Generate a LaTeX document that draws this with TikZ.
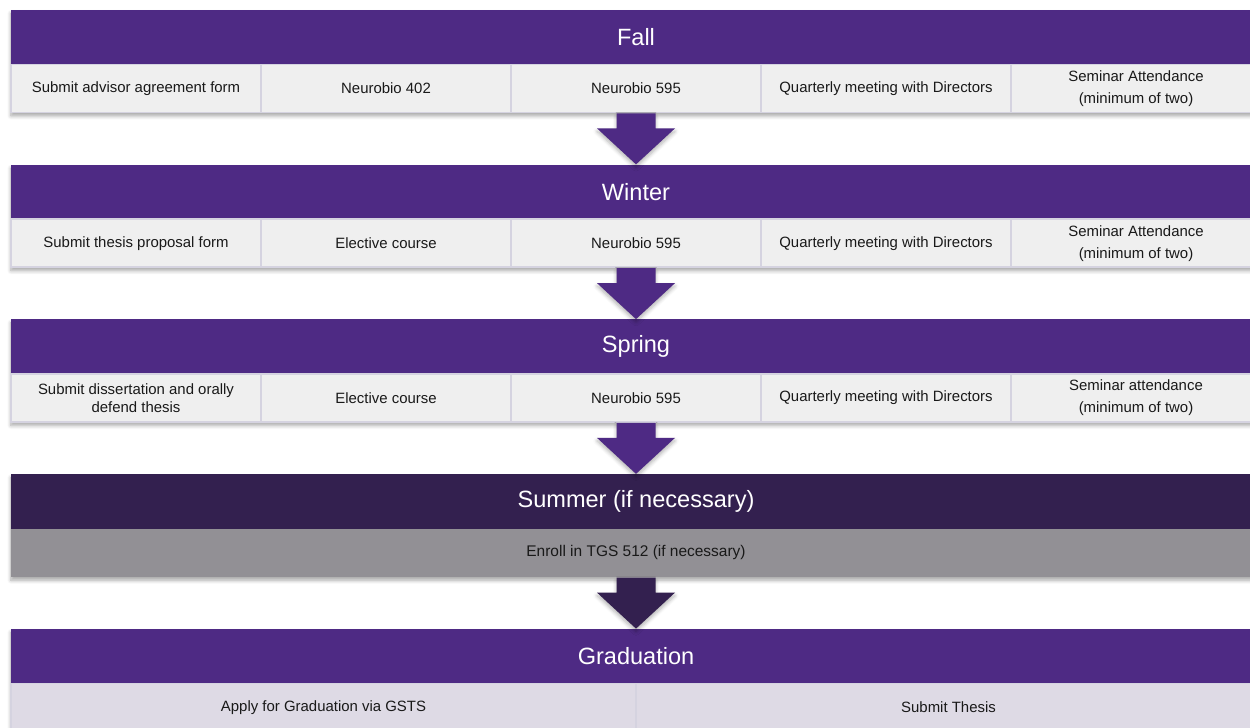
\documentclass[tikz,border=0pt]{standalone}
\usepackage{fontspec}
\setmainfont{Liberation Sans}
\usetikzlibrary{shadows.blur}

\definecolor{nupurple}{HTML}{4E2A84}
\definecolor{nudark}{HTML}{33204F}
\definecolor{cellgray}{HTML}{EFEFEF}
\definecolor{cellline}{HTML}{D5D3E0}
\definecolor{summergray}{HTML}{929095}
\definecolor{gradlilac}{HTML}{DEDAE5}

\tikzset{
  header/.style={rectangle, fill=nupurple, text=white, minimum width=25cm, minimum height=1.09cm,
    inner sep=0pt, font=\fontsize{13.4}{16}\selectfont},
  cell/.style={rectangle, fill=cellgray, draw=cellline, line width=1pt, minimum width=5cm,
    minimum height=0.96cm, inner sep=0pt, align=center, text=black!90, font=\fontsize{8.5}{12.5}\selectfont},
  blockshadow/.style={fill=nupurple, blur shadow={shadow xshift=0pt, shadow yshift=-0.07cm,
    shadow blur steps=6, shadow opacity=35}},
  flowarrow/.style={fill=nupurple, blur shadow={shadow xshift=0pt, shadow yshift=-0.06cm,
    shadow blur steps=5, shadow opacity=30}}
}

\begin{document}
\begin{tikzpicture}
\useasboundingbox (0,0) rectangle (25,14.56);
\clip (0,0) rectangle (25,14.56);

% Shadows under the five blocks
\foreach \y in {14.36,11.265,8.17,5.075,1.98} {
  \fill[blockshadow] (0.22,\y) rectangle ++(25,-2.05);
}

% Fall
\node[header] (fall) at (12.72,13.815) {Fall};
\foreach \i/\t in {0/Submit advisor agreement form,1/Neurobio 402,2/Neurobio 595,
    3/Quarterly meeting with Directors,4/{Seminar Attendance\\(minimum of two)}} {
  \node[cell] (fall\i) at (2.72+5*\i,12.79) {\t};
}

% Winter
\node[header] (winter) at (12.72,10.72) {Winter};
\foreach \i/\t in {0/Submit thesis proposal form,1/Elective course,2/Neurobio 595,
    3/Quarterly meeting with Directors,4/{Seminar Attendance\\(minimum of two)}} {
  \node[cell] (winter\i) at (2.72+5*\i,9.695) {\t};
}

% Spring
\node[header] (spring) at (12.72,7.625) {Spring};
\node[cell, font=\fontsize{8.5}{10.2}\selectfont] (spring0) at (2.72,6.60)
  {Submit dissertation and orally\\defend thesis};
\foreach \i/\t in {1/Elective course,2/Neurobio 595,
    3/Quarterly meeting with Directors,4/{Seminar attendance\\(minimum of two)}} {
  \node[cell] (spring\i) at (2.72+5*\i,6.60) {\t};
}

% Summer
\node[header, fill=nudark] (summer) at (12.72,4.53) {Summer (if necessary)};
\node[cell, fill=summergray, draw=none, minimum width=25cm, font=\fontsize{8.8}{11}\selectfont]
  (summer0) at (12.72,3.505) {Enroll in TGS 512 (if necessary)};

% Graduation
\node[header] (grad) at (12.72,1.435) {Graduation};
\node[cell, fill=gradlilac, minimum width=12.5cm] (grad0) at (6.47,0.41) {Apply for Graduation via GSTS};
\node[cell, fill=gradlilac, minimum width=12.5cm] (grad1) at (18.97,0.41) {Submit Thesis};

% Arrows between the blocks
\foreach \a/\b/\c in {fall2/winter/nupurple,winter2/spring/nupurple,spring2/summer/nupurple,summer0/grad/nudark} {
  \fill[flowarrow, fill=\c] ([xshift=-0.39cm]\a.south) -- ([xshift=-0.39cm,yshift=-0.3cm]\a.south)
    -- ([xshift=-0.78cm,yshift=-0.3cm]\a.south) -- (\b.north)
    -- ([xshift=0.78cm,yshift=-0.3cm]\a.south) -- ([xshift=0.39cm,yshift=-0.3cm]\a.south)
    -- ([xshift=0.39cm]\a.south) -- cycle;
}
\end{tikzpicture}
\end{document}
